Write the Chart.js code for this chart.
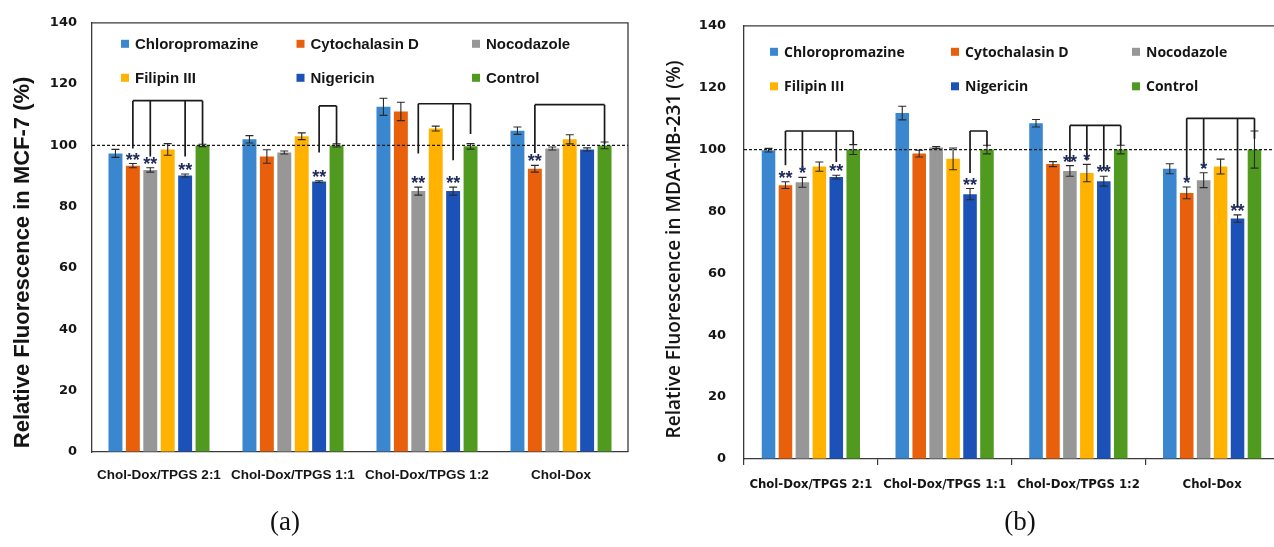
<!DOCTYPE html>
<html>
<head>
<meta charset="utf-8">
<script src="https://cdn.jsdelivr.net/npm/chart.js@4.4.1/dist/chart.umd.min.js"></script>
<style>
  html, body { margin:0; padding:0; background:#fff; width:1274px; height:547px; overflow:hidden; position:relative; }
  #ca { position:absolute; left:0; top:0; }
  #cb { position:absolute; left:640px; top:0; }
  .cap { position:absolute; top:506px; font-family:'Liberation Serif','Times New Roman',serif; font-size:27px; color:#111; width:80px; text-align:center; }
</style>
</head>
<body>
<canvas id="ca" width="640" height="547"></canvas>
<canvas id="cb" width="645" height="547"></canvas>
<div class="cap" style="left:245px">(a)</div>
<div class="cap" style="left:980px">(b)</div>
<script>
// ---------- shared ----------
const categories = ['Chol-Dox/TPGS 2:1', 'Chol-Dox/TPGS 1:1', 'Chol-Dox/TPGS 1:2', 'Chol-Dox'];
const seriesNames = ['Chloropromazine', 'Cytochalasin D', 'Nocodazole', 'Filipin III', 'Nigericin', 'Control'];
const seriesColors = ['#3a86cf', '#e8600c', '#979797', '#ffb300', '#1c52b8', '#4f9a1f'];
const yTicks = [0, 20, 40, 60, 80, 100, 120, 140];

// ---------- (a) MCF-7 ----------
const mcfChloro  = [97.4, 102.0, 112.6, 104.8];
const mcfCyto    = [93.4, 96.4, 111.1, 92.4];
const mcfNoco    = [92.0, 97.7, 85.1, 99.0];
const mcfFilipin = [98.7, 103.0, 105.5, 102.0];
const mcfNig     = [90.2, 88.2, 85.1, 98.7];
const mcfControl = [100.0, 100.0, 99.7, 100.0];
const mcfChloroErr  = [1.3, 1.2, 2.8, 1.2];
const mcfCytoErr    = [0.7, 2.2, 3.0, 1.1];
const mcfNocoErr    = [0.7, 0.5, 1.3, 0.5];
const mcfFilipinErr = [1.9, 1.1, 0.8, 1.5];
const mcfNigErr     = [0.5, 0.3, 1.3, 0.5];
const mcfControlErr = [0.4, 0.5, 0.9, 1.1];
const mcfStars = [
  ['', '', '', ''],
  ['**', '', '', '**'],
  ['**', '', '**', ''],
  ['', '', '', ''],
  ['**', '**', '**', ''],
  ['', '', '', '']
];
// brackets: group, top level, member series, drop end values
const mcfBrackets = [
  { group: 0, level: 114.6, members: [1, 2, 4, 5], ends: [99.0, 96.4, 96.4, 100.5] },
  { group: 1, level: 112.9, members: [4, 5], ends: [97.7, 100.5] },
  { group: 2, level: 113.6, members: [2, 4, 5], ends: [97.4, 95.2, 103.7] },
  { group: 3, level: 113.3, members: [1, 5], ends: [97.5, 100.5] }
];

// ---------- (b) MDA-MB-231 ----------
const mdaChloro  = [99.8, 111.8, 108.5, 93.8];
const mdaCyto    = [88.5, 98.7, 95.3, 86.0];
const mdaNoco    = [89.4, 100.7, 93.1, 90.1];
const mdaFilipin = [94.5, 97.0, 92.4, 94.5];
const mdaNig     = [91.1, 85.6, 89.8, 77.7];
const mdaControl = [100.0, 100.0, 100.0, 100.0];
const mdaChloroErr  = [0.6, 2.2, 1.2, 1.6];
const mdaCytoErr    = [1.1, 1.1, 0.8, 1.9];
const mdaNocoErr    = [1.6, 0.3, 1.7, 2.4];
const mdaFilipinErr = [1.5, 3.5, 2.8, 2.4];
const mdaNigErr     = [0.6, 1.8, 1.6, 1.2];
const mdaControlErr = [1.6, 1.4, 1.4, 6.0];
const mdaStars = [
  ['', '', '', ''],
  ['**', '', '', '*'],
  ['*', '', '**', '*'],
  ['', '', '*', ''],
  ['**', '**', '**', '**'],
  ['', '', '', '']
];
const mdaBrackets = [
  { group: 0, level: 106.0, members: [1, 2, 4, 5], ends: [94.9, 94.0, 96.0, 101.6] },
  { group: 1, level: 106.0, members: [4, 5], ends: [92.4, 101.0] },
  { group: 2, level: 107.8, members: [2, 3, 4, 5], ends: [96.0, 96.5, 93.3, 101.3] },
  { group: 3, level: 110.1, members: [1, 2, 4, 5], ends: [90.2, 94.1, 81.2, 103.5] }
];

// font availability check (choose condensed face if installed)
function hasFont(name) {
  const c = document.createElement('canvas').getContext('2d');
  const s = 'Chol-Dox/TPGS 2:1 mmmwwwiii';
  c.font = '40px monospace'; const w1 = c.measureText(s).width;
  c.font = '40px "' + name + '", monospace'; const w2 = c.measureText(s).width;
  return Math.abs(w1 - w2) > 0.5;
}
const condensedOK = hasFont('DejaVu Sans Condensed');
const bXFont = condensedOK
  ? { family: '"DejaVu Sans Condensed", "DejaVu Sans", sans-serif', weight: 'bold', size: 13 }
  : { family: '"DejaVu Sans", sans-serif', weight: 'bold', size: 11.8 };

function buildDatasets(values, cp, bp) {
  return values.map((v, i) => ({
    label: seriesNames[i],
    data: v,
    backgroundColor: seriesColors[i],
    borderWidth: 0,
    categoryPercentage: cp,
    barPercentage: bp
  }));
}

function extrasPlugin(p) {
  return {
    id: 'extras_' + p.key,
    afterDatasetsDraw(chart) {
      const ctx = chart.ctx;
      const ca = chart.chartArea;
      const ys = chart.scales.y;
      ctx.save();
      // box (top + right)
      ctx.strokeStyle = '#3a3a3a';
      ctx.lineWidth = 1.3;
      ctx.beginPath();
      ctx.moveTo(ca.left, ca.top); ctx.lineTo(ca.right, ca.top); ctx.lineTo(ca.right, ca.bottom);
      ctx.stroke();
      // error bars
      ctx.strokeStyle = '#2a2a2a';
      ctx.lineWidth = 1.1;
      p.values.forEach((vals, i) => {
        const meta = chart.getDatasetMeta(i);
        vals.forEach((v, j) => {
          const x = meta.data[j].x;
          const e = p.errs[i][j];
          const y1 = ys.getPixelForValue(v + e), y2 = ys.getPixelForValue(v - e);
          ctx.beginPath();
          ctx.moveTo(x, y1); ctx.lineTo(x, y2);
          ctx.moveTo(x - 4, y1); ctx.lineTo(x + 4, y1);
          ctx.moveTo(x - 4, y2); ctx.lineTo(x + 4, y2);
          ctx.stroke();
        });
      });
      // dashed reference at 100
      const y100 = ys.getPixelForValue(100);
      ctx.strokeStyle = '#1a1a1a';
      ctx.lineWidth = 1.3;
      ctx.setLineDash([3, 2]);
      ctx.beginPath(); ctx.moveTo(ca.left, y100); ctx.lineTo(ca.right, y100); ctx.stroke();
      ctx.setLineDash([]);
      // brackets
      ctx.strokeStyle = '#1a1a1a';
      ctx.lineWidth = 1.7;
      p.brackets.forEach(b => {
        const yl = ys.getPixelForValue(b.level);
        const xs = b.members.map(m => chart.getDatasetMeta(m).data[b.group].x);
        ctx.beginPath();
        ctx.moveTo(xs[0], yl); ctx.lineTo(xs[xs.length - 1], yl);
        xs.forEach((x, k) => { ctx.moveTo(x, yl); ctx.lineTo(x, ys.getPixelForValue(b.ends[k])); });
        ctx.stroke();
      });
      // stars
      ctx.fillStyle = '#1d2a5a';
      ctx.font = 'bold 18px "Liberation Sans", Arial, sans-serif';
      ctx.textAlign = 'center';
      ctx.textBaseline = 'alphabetic';
      p.stars.forEach((row, i) => {
        const meta = chart.getDatasetMeta(i);
        row.forEach((s, j) => {
          if (!s) return;
          const x = meta.data[j].x;
          const yt = ys.getPixelForValue(p.values[i][j] + p.errs[i][j]);
          ctx.fillText(s, x, yt + 2);
        });
      });
      // legend (2 rows x 3 cols inside plot)
      ctx.font = p.legendFont;
      ctx.textAlign = 'left';
      ctx.textBaseline = 'middle';
      seriesNames.forEach((n, i) => {
        const col = i % 3, row = Math.floor(i / 3);
        const x = ca.left + p.legX + col * p.legDx;
        const y = ca.top + p.legY + row * p.legDy;
        ctx.fillStyle = seriesColors[i];
        ctx.fillRect(x, y - 4, 8, 8);
        ctx.fillStyle = '#151515';
        ctx.fillText(n, x + 14, y + 1);
      });
      // y-axis title
      ctx.font = p.yTitleFont;
      ctx.fillStyle = '#151515';
      ctx.textAlign = 'center';
      ctx.textBaseline = 'middle';
      ctx.translate(p.yTitleX, (ca.top + ca.bottom) / 2 + p.yTitleShift);
      ctx.rotate(-Math.PI / 2);
      ctx.fillText(p.yTitle, 0, 0);
      ctx.restore();
    }
  };
}

function makeChart(id, p) {
  return new Chart(document.getElementById(id), {
    type: 'bar',
    data: { labels: categories, datasets: buildDatasets(p.values, p.cp, p.bp) },
    options: {
      responsive: false,
      animation: false,
      devicePixelRatio: 1,
      layout: { padding: { left: 0, right: p.padRight, top: p.padTop, bottom: 0 } },
      plugins: { legend: { display: false }, tooltip: { enabled: false } },
      scales: {
        x: {
          grid: { display: true, drawOnChartArea: false, drawTicks: p.xTicks, tickLength: 6, color: '#3a3a3a', lineWidth: 1.2 },
          border: { display: true, color: '#3a3a3a', width: 1.3 },
          ticks: { font: p.xFont, color: '#151515', padding: p.xPad, maxRotation: 0, autoSkip: false },
          afterFit(s) { s.height = p.xHeight; }
        },
        y: {
          min: 0, max: 140,
          afterBuildTicks(s) { s.ticks = yTicks.map(v => ({ value: v })); },
          grid: { display: true, drawOnChartArea: false, drawTicks: false },
          border: { display: true, color: '#3a3a3a', width: 1.3 },
          ticks: { font: { family: 'DejaVu Sans', weight: 'bold', size: 13 }, color: '#151515', padding: p.yPad },
          title: { display: false },
          afterFit(s) { s.width = p.yWidth; }
        }
      }
    },
    plugins: [extrasPlugin(p)]
  });
}

makeChart('ca', {
  key: 'a',
  values: [mcfChloro, mcfCyto, mcfNoco, mcfFilipin, mcfNig, mcfControl],
  errs: [mcfChloroErr, mcfCytoErr, mcfNocoErr, mcfFilipinErr, mcfNigErr, mcfControlErr],
  stars: mcfStars, brackets: mcfBrackets,
  cp: 0.78, bp: 0.8,
  padRight: 12, padTop: 19, xHeight: 95, yWidth: 92,
  xTicks: false, xPad: 15,
  xFont: { family: '"Liberation Sans", Arial, sans-serif', weight: 'bold', size: 13.5 },
  yPad: 15,
  yTitle: 'Relative Fluorescence in MCF-7 (%)',
  yTitleFont: 'bold 22px "Liberation Sans", Arial, sans-serif',
  yTitleX: 23, yTitleShift: 25,
  legendFont: 'bold 15px "Liberation Sans", Arial, sans-serif',
  legX: 29, legDx: 175.5, legY: 21, legDy: 34
});

makeChart('cb', {
  key: 'b',
  values: [mdaChloro, mdaCyto, mdaNoco, mdaFilipin, mdaNig, mdaControl],
  errs: [mdaChloroErr, mdaCytoErr, mdaNocoErr, mdaFilipinErr, mdaNigErr, mdaControlErr],
  stars: mdaStars, brackets: mdaBrackets,
  cp: 0.76, bp: 0.8,
  padRight: 6, padTop: 17, xHeight: 88, yWidth: 104,
  xTicks: true, xPad: 12,
  xFont: bXFont,
  yPad: 18,
  yTitle: 'Relative Fluorescence in MDA-MB-231 (%)',
  yTitleFont: '600 19px "Open Sans", sans-serif',
  yTitleX: 35, yTitleShift: 7,
  legendFont: 'bold 14px "Open Sans", sans-serif',
  legX: 26, legDx: 181, legY: 26, legDy: 34.5
});
</script>
</body>
</html>
